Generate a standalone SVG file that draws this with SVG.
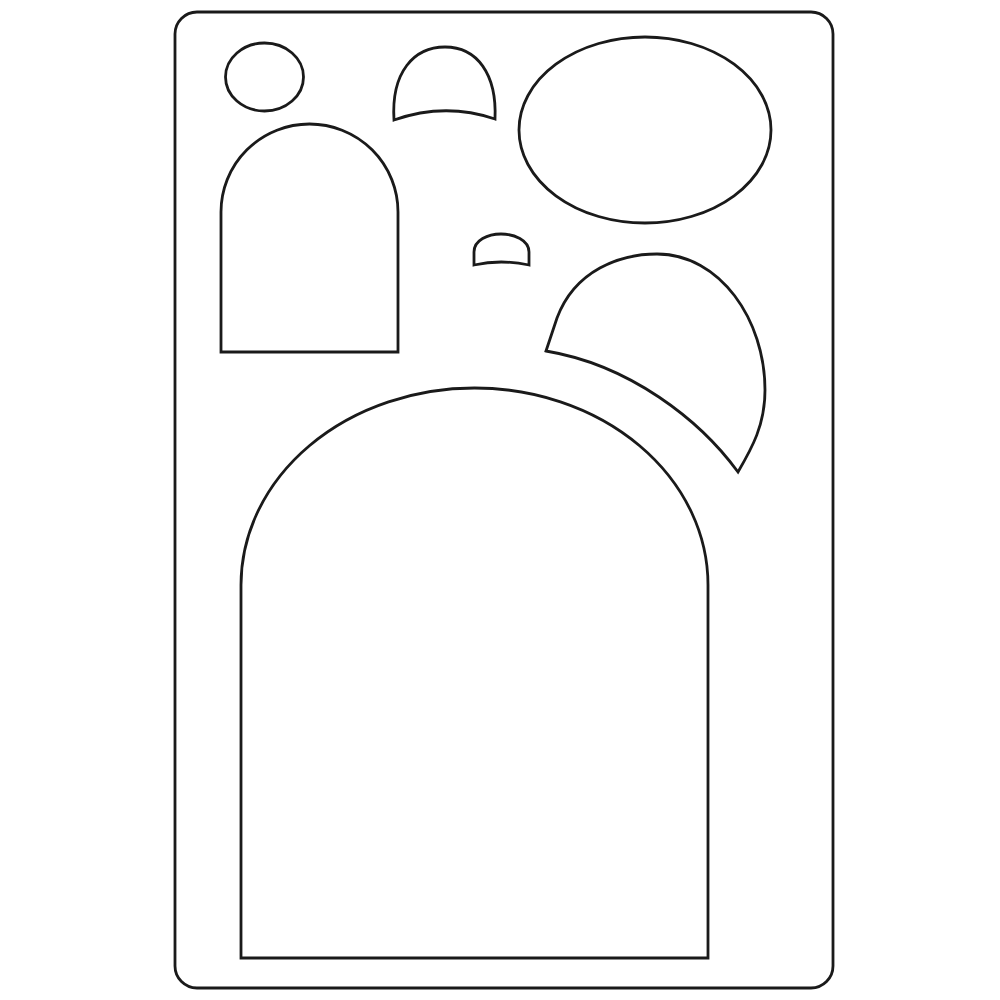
<svg xmlns="http://www.w3.org/2000/svg" width="1000" height="1000" viewBox="0 0 1000 1000">
<style>
.s{fill:#fff;stroke:#1a1a1a;stroke-width:2.8;stroke-linejoin:miter}
</style>
<rect width="1000" height="1000" fill="#fff"/>
<g id="board"><rect class="s" x="175" y="12" width="658" height="976" rx="22"/></g>
<g id="circle"><ellipse class="s" cx="264.5" cy="77" rx="39" ry="34"/></g>
<g id="dome"><path class="s" d="M394,120 C391,72 414,47 445,47 C477,47 497,74 495,119 Q445,102 394,120 Z"/></g>
<g id="oval"><ellipse class="s" cx="645" cy="130" rx="126" ry="93"/></g>
<g id="small-arch"><path class="s" d="M221,352 L221,212 A88.5,88 0 0 1 398,212 L398,352 Z"/></g>
<g id="tiny-dome"><path class="s" d="M474,265 L474,252 C474,240 488,234 501,234 C514,234 529,240 529,252 L529,265 Q501,259 474,265 Z"/></g>
<g id="leaf"><path class="s" d="M546,351 L557,318 C575,270 620,254 657,254 C720,254 765,320 765,390 C765,425 752,448 738,472 C700,420 630,365 546,351 Z"/></g>
<g id="big-arch"><path class="s" d="M241,958 L241,585 A233.5,197 0 0 1 708,585 L708,958 Z"/></g>
</svg>
